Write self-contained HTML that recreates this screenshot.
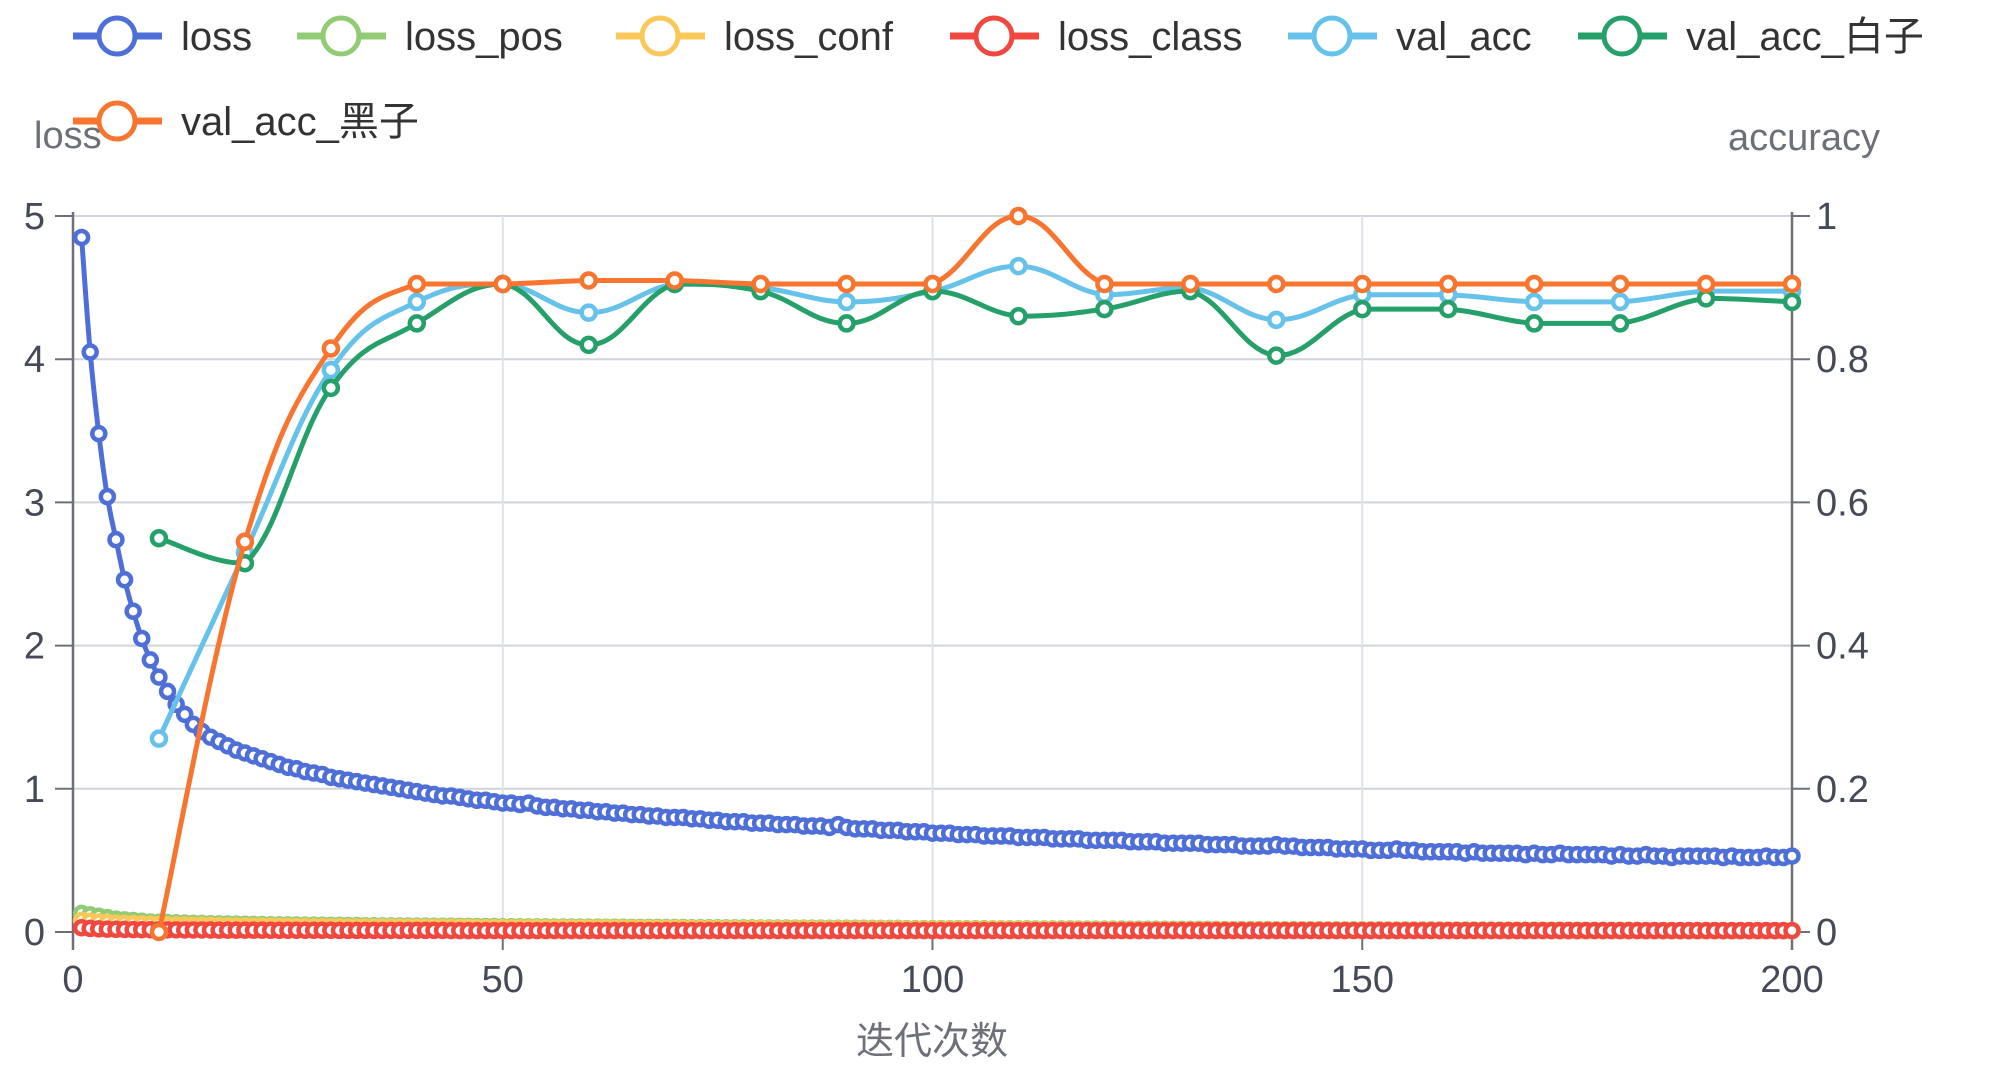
<!DOCTYPE html>
<html><head><meta charset="utf-8"><style>
body{margin:0;background:#fff;}
svg{display:block;font-family:"Liberation Sans","Noto Sans CJK SC",sans-serif;}
</style></head><body>
<svg id="chart" width="2000" height="1069" viewBox="0 0 2000 1069" xmlns="http://www.w3.org/2000/svg">
<g id="grid"></g>
<g id="axes"></g>
<g id="series"></g>
<g id="legend"></g>
<text x="34" y="148" font-size="38" fill="#6e7079">loss</text>
<text x="1880" y="150" font-size="38" fill="#6e7079" text-anchor="end">accuracy</text>
<text x="932" y="1054" font-size="38" fill="#6e7079" text-anchor="middle">迭代次数</text>
</svg>
<script>
const lossVals=[4.85,4.05,3.48,3.04,2.74,2.46,2.24,2.05,1.90,1.78,
1.68,1.59,1.52,1.45,1.40,1.36,1.33,1.30,1.27,1.25,
1.23,1.21,1.19,1.17,1.15,1.14,1.12,1.11,1.10,1.08,
1.07,1.06,1.05,1.04,1.03,1.02,1.01,1.00,0.99,0.98,
0.97,0.96,0.95,0.95,0.94,0.93,0.92,0.92,0.91,0.90,
0.90,0.89,0.90,0.88,0.87,0.87,0.86,0.86,0.85,0.85,
0.84,0.84,0.83,0.83,0.82,0.82,0.81,0.81,0.80,0.80,
0.80,0.79,0.79,0.78,0.78,0.77,0.77,0.77,0.76,0.76,
0.76,0.75,0.75,0.75,0.74,0.74,0.74,0.73,0.75,0.73,
0.72,0.72,0.72,0.71,0.71,0.71,0.70,0.70,0.70,0.69,
0.69,0.69,0.68,0.68,0.68,0.67,0.67,0.67,0.67,0.66,
0.66,0.66,0.66,0.65,0.65,0.65,0.65,0.64,0.64,0.64,
0.64,0.64,0.63,0.63,0.63,0.63,0.62,0.62,0.62,0.62,
0.62,0.61,0.61,0.61,0.61,0.60,0.60,0.60,0.60,0.61,
0.60,0.60,0.59,0.59,0.59,0.59,0.58,0.58,0.58,0.58,
0.57,0.57,0.57,0.58,0.57,0.57,0.56,0.56,0.56,0.56,
0.56,0.55,0.56,0.55,0.55,0.55,0.55,0.55,0.54,0.55,
0.54,0.54,0.55,0.54,0.54,0.54,0.54,0.54,0.53,0.54,
0.53,0.53,0.54,0.53,0.53,0.52,0.53,0.53,0.53,0.53,
0.53,0.52,0.53,0.52,0.52,0.52,0.53,0.52,0.52,0.53];
const lossPosVals=[0.13,0.12,0.11,0.10,0.09,0.085,0.08,0.075,0.07,0.068,
0.066,0.064,0.062,0.06,0.059,0.058,0.057,0.056,0.055,0.054,
0.053,0.052,0.051,0.05,0.05,0.049,0.048,0.048,0.047,0.046,
0.046,0.045,0.045,0.044,0.044,0.043,0.043,0.042,0.042,0.041,
0.041,0.04,0.04,0.04,0.039,0.039,0.038,0.038,0.038,0.037,
0.037,0.037,0.036,0.036,0.036,0.035,0.035,0.035,0.034,0.034,
0.034,0.033,0.033,0.033,0.032,0.032,0.032,0.032,0.031,0.031,
0.031,0.03,0.03,0.03,0.03,0.029,0.029,0.029,0.029,0.028,
0.028,0.028,0.028,0.027,0.027,0.027,0.027,0.026,0.026,0.026,
0.026,0.026,0.025,0.025,0.025,0.025,0.024,0.024,0.024,0.024,
0.024,0.023,0.023,0.023,0.023,0.023,0.022,0.022,0.022,0.022,
0.022,0.021,0.021,0.021,0.021,0.021,0.02,0.02,0.02,0.02,
0.02,0.02,0.019,0.019,0.019,0.019,0.019,0.018,0.018,0.018,
0.018,0.018,0.018,0.017,0.017,0.017,0.017,0.017,0.017,0.016,
0.016,0.016,0.016,0.016,0.016,0.015,0.015,0.015,0.015,0.015,
0.015,0.015,0.014,0.014,0.014,0.014,0.014,0.014,0.014,0.013,
0.013,0.013,0.013,0.013,0.013,0.013,0.012,0.012,0.012,0.012,
0.012,0.012,0.012,0.012,0.011,0.011,0.011,0.011,0.011,0.011,
0.011,0.011,0.01,0.01,0.01,0.01,0.01,0.01,0.01,0.01,
0.01,0.01,0.01,0.01,0.01,0.01,0.01,0.01,0.01,0.01];
const lossConfVals=[0.08,0.075,0.07,0.066,0.062,0.06,0.058,0.056,0.054,0.052,
0.05,0.049,0.048,0.047,0.046,0.045,0.044,0.043,0.042,0.042,
0.041,0.04,0.04,0.039,0.039,0.038,0.038,0.037,0.037,0.036,
0.036,0.035,0.035,0.035,0.034,0.034,0.034,0.033,0.033,0.033,
0.032,0.032,0.032,0.031,0.031,0.031,0.03,0.03,0.03,0.03,
0.029,0.029,0.029,0.029,0.028,0.028,0.028,0.028,0.027,0.027,
0.027,0.027,0.026,0.026,0.026,0.026,0.025,0.025,0.025,0.025,
0.025,0.024,0.024,0.024,0.024,0.023,0.023,0.023,0.023,0.023,
0.022,0.022,0.022,0.022,0.022,0.021,0.021,0.021,0.021,0.021,
0.02,0.02,0.02,0.02,0.02,0.02,0.019,0.019,0.019,0.019,
0.019,0.019,0.018,0.018,0.018,0.018,0.018,0.018,0.017,0.017,
0.017,0.017,0.017,0.017,0.016,0.016,0.016,0.016,0.016,0.016,
0.016,0.015,0.015,0.015,0.015,0.015,0.015,0.015,0.014,0.014,
0.014,0.014,0.014,0.014,0.014,0.013,0.013,0.013,0.013,0.013,
0.013,0.013,0.013,0.012,0.012,0.012,0.012,0.012,0.012,0.012,
0.012,0.011,0.011,0.011,0.011,0.011,0.011,0.011,0.011,0.011,
0.01,0.01,0.01,0.01,0.01,0.01,0.01,0.01,0.01,0.01,
0.01,0.01,0.009,0.009,0.009,0.009,0.009,0.009,0.009,0.009,
0.009,0.009,0.009,0.009,0.009,0.008,0.008,0.008,0.008,0.008,
0.008,0.008,0.008,0.008,0.008,0.008,0.008,0.008,0.008,0.008];
const lossClassVals=[0.03,0.025,0.022,0.02,0.019,0.018,0.017,0.016,0.016,0.015,
0.015,0.015,0.014,0.014,0.014,0.014,0.013,0.013,0.013,0.013,
0.013,0.013,0.012,0.012,0.012,0.012,0.012,0.012,0.012,0.012,
0.011,0.011,0.011,0.011,0.011,0.011,0.011,0.011,0.011,0.011,
0.011,0.011,0.011,0.01,0.01,0.01,0.01,0.01,0.01,0.01,
0.01,0.01,0.01,0.01,0.01,0.01,0.01,0.01,0.01,0.01,
0.01,0.01,0.01,0.01,0.01,0.01,0.01,0.01,0.01,0.01,
0.01,0.01,0.01,0.01,0.01,0.01,0.01,0.01,0.01,0.01,
0.01,0.01,0.01,0.01,0.01,0.01,0.01,0.01,0.01,0.01,
0.01,0.01,0.01,0.01,0.01,0.01,0.01,0.01,0.01,0.01,
0.01,0.01,0.01,0.01,0.01,0.01,0.01,0.01,0.01,0.01,
0.01,0.01,0.01,0.01,0.01,0.01,0.01,0.01,0.01,0.01,
0.01,0.01,0.01,0.01,0.01,0.01,0.01,0.01,0.01,0.01,
0.01,0.01,0.01,0.01,0.01,0.01,0.01,0.01,0.01,0.01,
0.01,0.01,0.01,0.01,0.01,0.01,0.01,0.01,0.01,0.01,
0.01,0.01,0.01,0.01,0.01,0.01,0.01,0.01,0.01,0.01,
0.01,0.01,0.01,0.01,0.01,0.01,0.01,0.01,0.01,0.01,
0.01,0.01,0.01,0.01,0.01,0.01,0.01,0.01,0.01,0.01,
0.01,0.01,0.01,0.01,0.01,0.01,0.01,0.01,0.01,0.01,
0.01,0.01,0.01,0.01,0.01,0.01,0.01,0.01,0.01,0.01];
const accEpochs=[10,20,30,40,50,60,70,80,90,100,110,120,130,140,150,160,170,180,190,200];
const valAcc=[0.27,0.53,0.785,0.88,0.905,0.865,0.905,0.90,0.88,0.895,0.93,0.89,0.90,0.855,0.89,0.89,0.88,0.88,0.895,0.895];
const valAccWhite=[0.55,0.515,0.76,0.85,0.905,0.82,0.905,0.895,0.85,0.895,0.86,0.87,0.895,0.805,0.87,0.87,0.85,0.85,0.885,0.88];
const valAccBlack=[0.0,0.545,0.815,0.905,0.905,0.91,0.91,0.905,0.905,0.905,1.0,0.905,0.905,0.905,0.905,0.905,0.905,0.905,0.905,0.905];
const xTicks=[0,50,100,150,200];
const yLeftTicks=[0,1,2,3,4,5];
const yRightTicks=["0","0.2","0.4","0.6","0.8","1"];

const NS="http://www.w3.org/2000/svg";
const X0=73,X1=1792,Y0=932,Y1=216;
const sx=v=>X0+(v/200)*(X1-X0);
const syL=v=>Y0-(v/5)*(Y0-Y1);
const syR=v=>Y0-v*(Y0-Y1);
function mk(tag,attrs,parent){const e=document.createElementNS(NS,tag);for(const k in attrs)e.setAttribute(k,attrs[k]);parent.appendChild(e);return e;}
const grid=document.getElementById('grid'),axes=document.getElementById('axes'),ser=document.getElementById('series'),leg=document.getElementById('legend');

yLeftTicks.forEach((t,i)=>{
  const y=syL(t);
  const g=mk('line',{x1:X0,x2:X1,y1:y,y2:y,stroke:'#d0d3da','stroke-width':2},grid);
  
  
  mk('line',{x1:X0-18,x2:X0,y1:y,y2:y,stroke:'#6e7079','stroke-width':2},axes);
  mk('line',{x1:X1,x2:X1+18,y1:y,y2:y,stroke:'#6e7079','stroke-width':2},axes);
  const l=mk('text',{x:X0-28,y:y+13,'font-size':38,fill:'#464a56','text-anchor':'end'},axes);l.textContent=t;
  
  
  const r=mk('text',{x:X1+24,y:y+13,'font-size':38,fill:'#464a56'},axes);r.textContent=yRightTicks[i];
  
  
});
xTicks.forEach(t=>{
  const x=sx(t);
  if(t>0&&t<200){const g=mk('line',{x1:x,x2:x,y1:Y1,y2:Y0,stroke:'#dde3ea','stroke-width':2},grid);
  
  }
  mk('line',{x1:x,x2:x,y1:Y0,y2:Y0+18,stroke:'#6e7079','stroke-width':2},axes);
  const l=mk('text',{x:x,y:Y0+60,'font-size':38,fill:'#464a56','text-anchor':'middle'},axes);l.textContent=t;
  
  
});
mk('line',{x1:X0,x2:X0,y1:Y1-4,y2:Y0+18,stroke:'#6e7079','stroke-width':2.5},axes);
mk('line',{x1:X1,x2:X1,y1:Y1-4,y2:Y0+18,stroke:'#6e7079','stroke-width':2.5},axes);

function clamp(v,a,b){const lo=Math.min(a,b),hi=Math.max(a,b);return Math.max(lo,Math.min(hi,v));}
function smoothPath(pts){
  if(pts.length<2)return '';
  let d='M'+pts[0][0]+','+pts[0][1];
  const s=0.2;
  for(let i=0;i<pts.length-1;i++){
    const p0=pts[i-1]||pts[i],p1=pts[i],p2=pts[i+1],p3=pts[i+2]||p2;
    const c1=[p1[0]+(p2[0]-p0[0])*s,clamp(p1[1]+(p2[1]-p0[1])*s,p1[1],p2[1])];
    const c2=[p2[0]-(p3[0]-p1[0])*s,clamp(p2[1]-(p3[1]-p1[1])*s,p1[1],p2[1])];
    d+=` C${c1[0]},${c1[1]} ${c2[0]},${c2[1]} ${p2[0]},${p2[1]}`;
  }
  return d;
}
function drawSeries(name,xs,vals,sy,color,r){
  const g=mk('g',{},ser);
  
  
  const pts=vals.map((v,i)=>[sx(xs[i]),sy(v)]);
  const p=mk('path',{d:smoothPath(pts),fill:'none',stroke:color,'stroke-width':5,'stroke-linejoin':'round'},g);
  
  
  pts.forEach(pt=>{
    const c=mk('circle',{cx:pt[0],cy:pt[1],r:r,fill:'#fff',stroke:color,'stroke-width':4.5},g);
    
    
  });
}
const epochs=lossVals.map((_,i)=>i+1);
drawSeries('loss',epochs,lossVals,syL,'#4f6fd8',6.5);
drawSeries('loss-pos',epochs,lossPosVals,syL,'#91cc75',6.5);
drawSeries('loss-conf',epochs,lossConfVals,syL,'#fac858',6.5);
drawSeries('loss-class',epochs,lossClassVals,syL,'#f0473f',6.5);
drawSeries('val-acc',accEpochs,valAcc,syR,'#66c2ea',7);
drawSeries('val-acc-white',accEpochs,valAccWhite,syR,'#26a06a',7);
drawSeries('val-acc-black',accEpochs,valAccBlack,syR,'#f8752f',7);

const legItems=[['loss','#4f6fd8',73,36],['loss_pos','#91cc75',297,36],['loss_conf','#fac858',616,36],['loss_class','#f0473f',950,36],['val_acc','#66c2ea',1288,36],['val_acc_白子','#26a06a',1578,36],['val_acc_黑子','#f8752f',73,121]];
legItems.forEach(it=>{
  const g=mk('g',{},leg);
  
  
  const [lab,col,x,y]=it;
  mk('line',{x1:x,x2:x+89,y1:y,y2:y,stroke:col,'stroke-width':7},g);
  mk('circle',{cx:x+44,cy:y,r:18,fill:'#fff',stroke:col,'stroke-width':5},g);
  const t=mk('text',{x:x+108,y:y+14,'font-size':40,fill:'#333'},g);t.textContent=lab;
});
</script>
</body></html>
